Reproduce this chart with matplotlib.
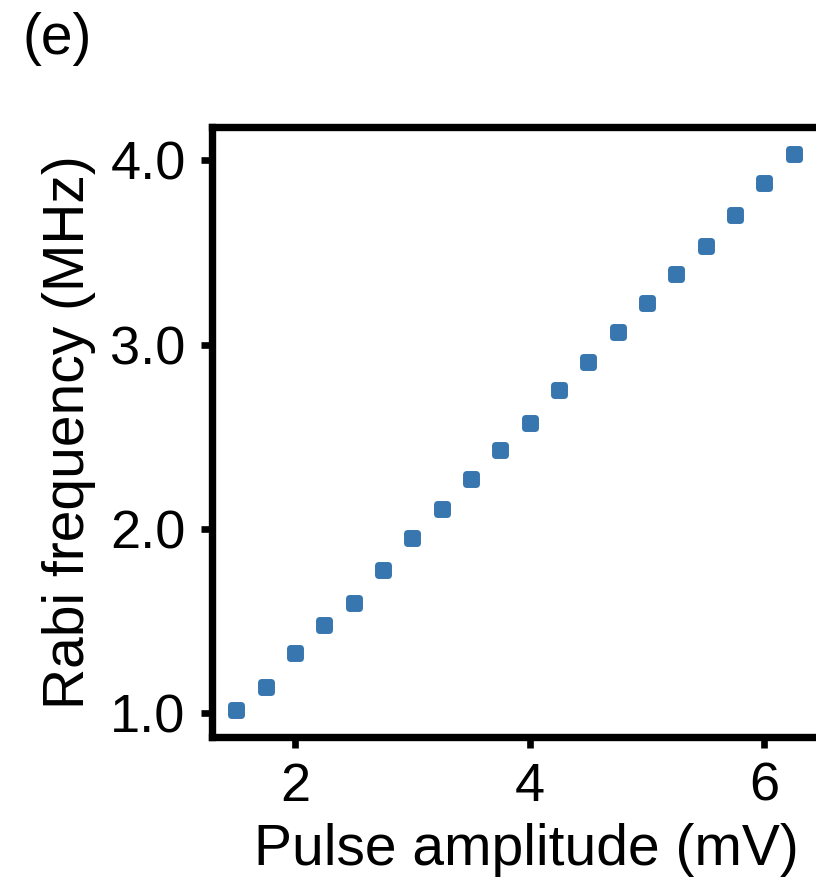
import matplotlib
matplotlib.use("Agg")
import matplotlib.pyplot as plt
from matplotlib.markers import MarkerStyle

plt.rcParams['font.family'] = ['Liberation Sans', 'DejaVu Sans']

pulse_amplitude = [1.5, 1.75, 2.0, 2.25, 2.5, 2.75, 3.0, 3.25, 3.5, 3.75,
                   4.0, 4.25, 4.5, 4.75, 5.0, 5.25, 5.5, 5.75, 6.0, 6.25]
rabi_frequency = [1.02, 1.14, 1.325, 1.48, 1.60, 1.776, 1.95, 2.11, 2.27, 2.43,
                  2.573, 2.754, 2.908, 3.067, 3.225, 3.382, 3.537, 3.704, 3.876, 4.033]
x_ticks = [2, 4, 6]
y_ticks = [1.0, 2.0, 3.0, 4.0]
y_tick_labels = ["1.0", "2.0", "3.0", "4.0"]

fig = plt.figure(figsize=(8.16, 8.77), dpi=100)
ax = fig.add_axes([211.7/816, 1-737/877, (823-211.7)/816, (737-127)/877])

color = '#3776ae'
ax.plot(pulse_amplitude, rabi_frequency, linestyle='none',
        marker=MarkerStyle('s', joinstyle='round'), markersize=7.2,
        markerfacecolor=color, markeredgecolor=color, markeredgewidth=5.0)

ax.set_xlim(1.29, 6.5)
ax.set_ylim(0.871, 4.181)
ax.set_xticks(x_ticks)
ax.set_yticks(y_ticks)
ax.set_yticklabels(y_tick_labels)

for s in ax.spines.values():
    s.set_linewidth(5.3)
    s.set_color('black')
ax.spines['right'].set_visible(False)

ax.tick_params(axis='both', direction='out', length=7.7, width=4.8,
               labelsize=39, colors='black')
ax.tick_params(axis='y', pad=11)
ax.tick_params(axis='x', pad=10)

ax.set_xlabel('Pulse amplitude (mV)', fontsize=41, labelpad=8)
ax.xaxis.label.set_x((526.5-211.7)/(823-211.7))
ax.set_ylabel('Rabi frequency (MHz)', fontsize=41, labelpad=10)

fig.text(22/816, 1-54/877, '(e)', fontsize=41, va='baseline', ha='left')

fig.savefig('out.png', dpi=100)
